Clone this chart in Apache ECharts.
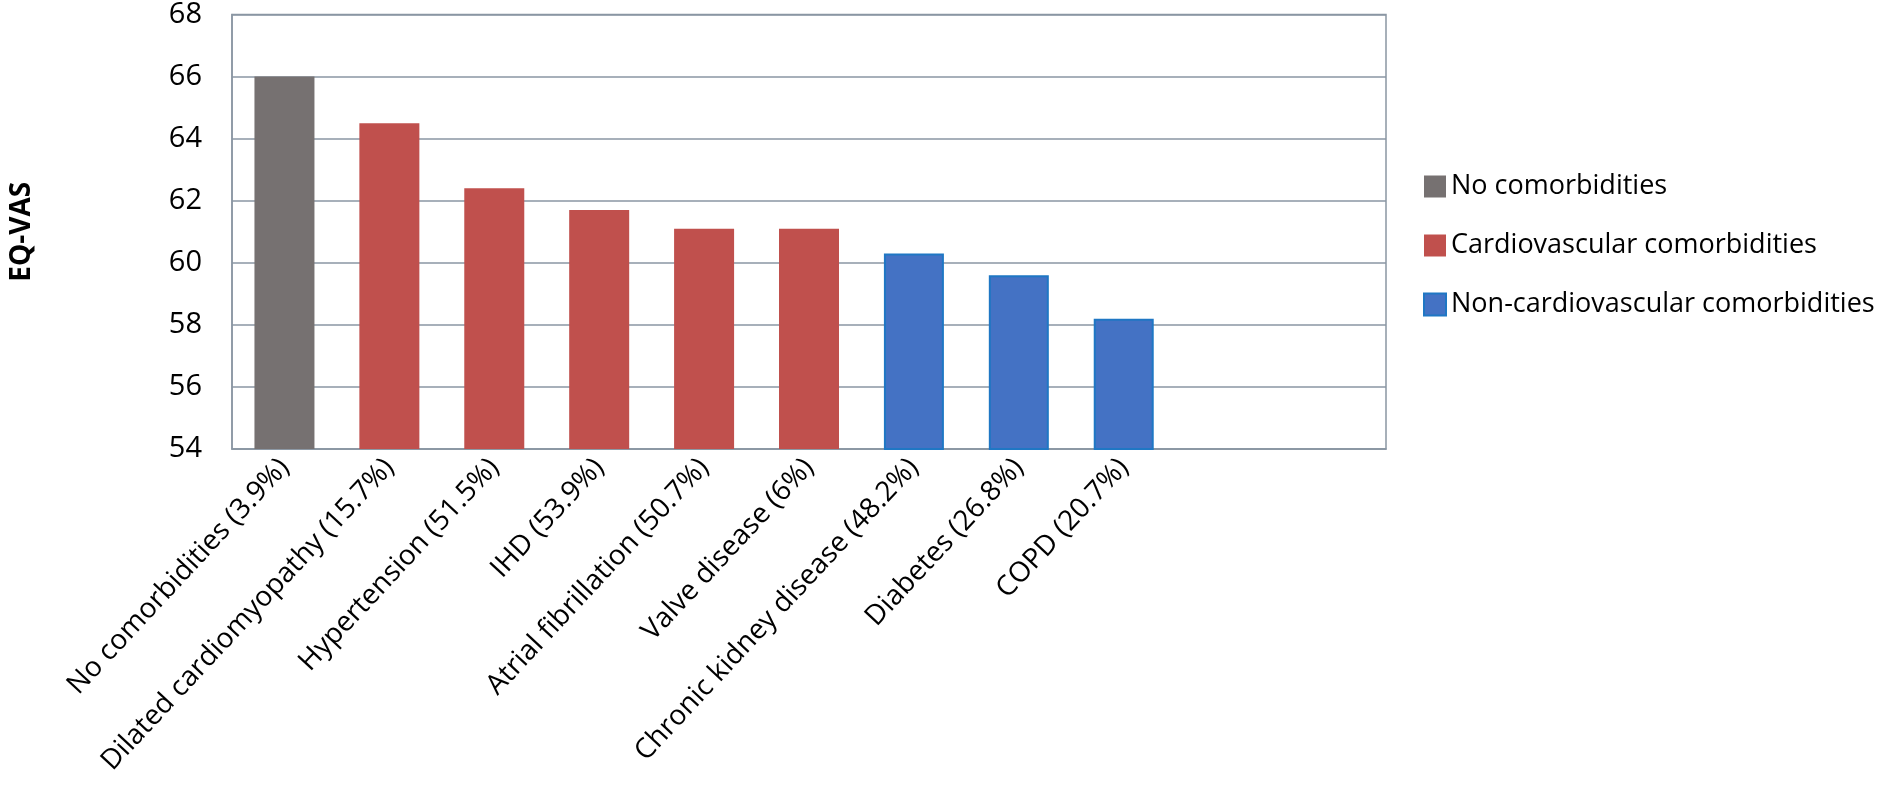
<!DOCTYPE html>
<html>
<head>
<meta charset="utf-8">
<script src="https://cdn.jsdelivr.net/npm/echarts@6/dist/echarts.min.js"></script>
<style>html,body{margin:0;padding:0;background:#fff}#main{width:1903px;height:800px}</style>
</head>
<body>
<div id="main"></div>
<script>
var categories = ['No comorbidities (3.9%)', 'Dilated cardiomyopathy (15.7%)', 'Hypertension (51.5%)',
  'IHD (53.9%)', 'Atrial fibrillation (50.7%)', 'Valve disease (6%)',
  'Chronic kidney disease (48.2%)', 'Diabetes (26.8%)', 'COPD (20.7%)', '', ''];
var noComorb = [66, null, null, null, null, null, null, null, null, null, null];
var cardio = [null, 64.5, 62.4, 61.7, 61.1, 61.1, null, null, null, null, null];
var nonCardio = [null, null, null, null, null, null, 60.3, 59.6, 58.2, null, null];
var yTicks = [54, 56, 58, 60, 62, 64, 66, 68];

var font = '"Open Sans", "Noto Sans", sans-serif';
var chart = echarts.init(document.getElementById('main'));

function bar(name, data, color, border) {
  return {
    name: name, type: 'bar', stack: 'all', data: data, barWidth: 60,
    itemStyle: { color: color, borderColor: border || color, borderWidth: border ? 2 : 0 }
  };
}

chart.setOption({
  animation: false,
  grid: { left: 231, right: 517, top: 12, bottom: 351, show: true, borderColor: '#8a96a3', borderWidth: 1.5 },
  legend: {
    orient: 'vertical', left: 1418, top: 168, itemGap: 32, itemWidth: 22, itemHeight: 22,
    icon: 'rect',
    textStyle: { fontFamily: font, fontSize: 27, color: '#000' },
    data: ['No comorbidities', 'Cardiovascular comorbidities', 'Non-cardiovascular comorbidities']
  },
  xAxis: {
    type: 'category', data: categories,
    axisLine: { show: true, lineStyle: { color: '#8a96a3', width: 1.5 } },
    axisTick: { show: false },
    axisLabel: { rotate: 47, interval: 0, margin: 14, fontFamily: font, fontSize: 28, color: '#000' }
  },
  yAxis: {
    type: 'value', min: yTicks[0], max: yTicks[yTicks.length - 1], interval: 2,
    name: 'EQ-VAS', nameLocation: 'middle', nameGap: 196, nameRotate: 90,
    nameTextStyle: { fontFamily: font, fontSize: 28, fontWeight: 'bold', color: '#000' },
    axisLine: { show: true, lineStyle: { color: '#8a96a3', width: 1.5 } },
    axisTick: { show: false },
    splitLine: { lineStyle: { color: '#8a96a3', width: 1.5 } },
    axisLabel: { fontFamily: font, fontSize: 29, color: '#000', margin: 30 }
  },
  series: [
    bar('No comorbidities', noComorb, '#767171'),
    bar('Cardiovascular comorbidities', cardio, '#c0504d'),
    bar('Non-cardiovascular comorbidities', nonCardio, '#4472c4', '#1f77c4')
  ]
});
</script>
</body>
</html>
